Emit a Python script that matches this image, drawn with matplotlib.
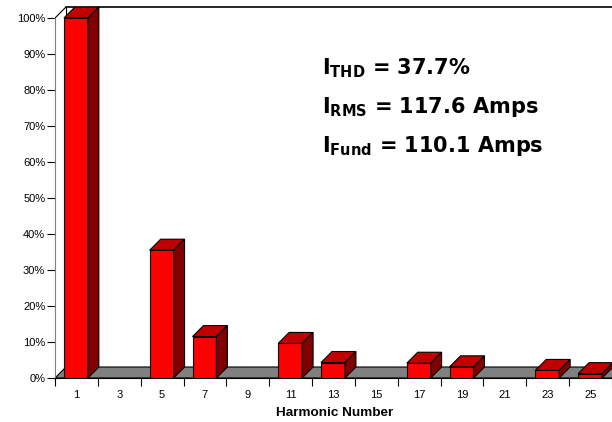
import numpy as np
import matplotlib.pyplot as plt

plt.rcParams['font.family'] = ['Liberation Sans', 'DejaVu Sans']
plt.rcParams['mathtext.fontset'] = 'custom'
plt.rcParams['mathtext.rm'] = 'DejaVu Sans:bold'
plt.rcParams['mathtext.bf'] = 'DejaVu Sans:bold'

# data
harmonics = [1, 3, 5, 7, 9, 11, 13, 15, 17, 19, 21, 23, 25]
percent = [100, 0, 35.5, 11.5, 0, 9.6, 4.3, 0, 4.1, 3.1, 0, 2.1, 1.2]
info_lines = [r'$\mathrm{I}_{\mathrm{THD}}$ = 37.7%',
              r'$\mathrm{I}_{\mathrm{RMS}}$ = 117.6 Amps',
              r'$\mathrm{I}_{\mathrm{Fund}}$ = 110.1 Amps']

# geometry (pixels -> data units)
W, H = 612, 422
cat_px = 43.0
pct_px = 3.6
left_px, bottom_px, top_px = 55, 378, 7
dx = 11 / cat_px          # depth shift in x
dy = 11 / pct_px          # depth shift in y
bar_off = 9 / cat_px
bar_w = 24 / cat_px

fig = plt.figure(figsize=(W / 100, H / 100), dpi=100)
ax = fig.add_axes([left_px / W, (H - bottom_px) / H, (W - left_px) / W, (bottom_px - top_px) / H])
xmax = (W - left_px) / cat_px
ymax = (bottom_px - top_px) / pct_px
ax.set_xlim(0, xmax)
ax.set_ylim(0, ymax)

for s in ['top', 'right']:
    ax.spines[s].set_visible(False)
ax.spines['left'].set_bounds(0, 100)
ax.spines['left'].set_color('#808080')
ax.spines['bottom'].set_color('black')

# walls
ax.plot([0, dx], [100, 100 + dy], color='black', lw=0.8, zorder=1)
ax.plot([dx, dx], [dy, 100 + dy], color='black', lw=0.8, zorder=1)
ax.plot([dx, xmax + 1], [100 + dy, 100 + dy], color='black', lw=1.2, zorder=1, clip_on=False)

# floor
n = len(harmonics)
ax.fill([0, n + 1, n + 1 + dx, dx], [0, 0, dy, dy], facecolor='#808080',
        edgecolor='black', lw=0.8, zorder=2)

# bars
for i, v in enumerate(percent):
    if v <= 0:
        continue
    x0 = i + bar_off
    x1 = x0 + bar_w
    ax.fill([x0, x1, x1, x0], [0, 0, v, v], facecolor='#FF0000', edgecolor='black', lw=0.8, zorder=3)
    ax.fill([x0, x1, x1 + dx, x0 + dx], [v, v, v + dy, v + dy], facecolor='#C00000',
            edgecolor='black', lw=0.8, zorder=3)
    ax.fill([x1, x1 + dx, x1 + dx, x1], [0, dy, v + dy, v], facecolor='#800000',
            edgecolor='black', lw=0.8, zorder=3)

# ticks
ax.set_yticks(np.arange(0, 101, 10))
ax.set_yticklabels([f'{t}%' for t in range(0, 101, 10)], fontsize=8)
ax.tick_params(axis='y', length=6, width=0.8, pad=1, colors='black')
ax.set_xticks(np.arange(0, n + 1))
ax.set_xticklabels([])
ax.tick_params(axis='x', which='major', length=6, width=0.8)
ax.set_xticks(np.arange(n) + 0.5, minor=True)
ax.set_xticklabels([str(h) for h in harmonics], minor=True, fontsize=8)
ax.tick_params(axis='x', which='minor', length=0, pad=9)
ax.set_xlabel('Harmonic Number', fontsize=9.7, fontweight='bold', va='center')
ax.xaxis.set_label_coords((334.5 - left_px) / (W - left_px), -(413 - bottom_px) / (bottom_px - top_px))

# annotation
for k, line in enumerate(info_lines):
    fig.text(322 / W, 1 - (74 + 39 * k) / H, line, fontsize=15, fontweight='bold',
             family='DejaVu Sans', va='baseline')

fig.savefig('out.png', dpi=100)
